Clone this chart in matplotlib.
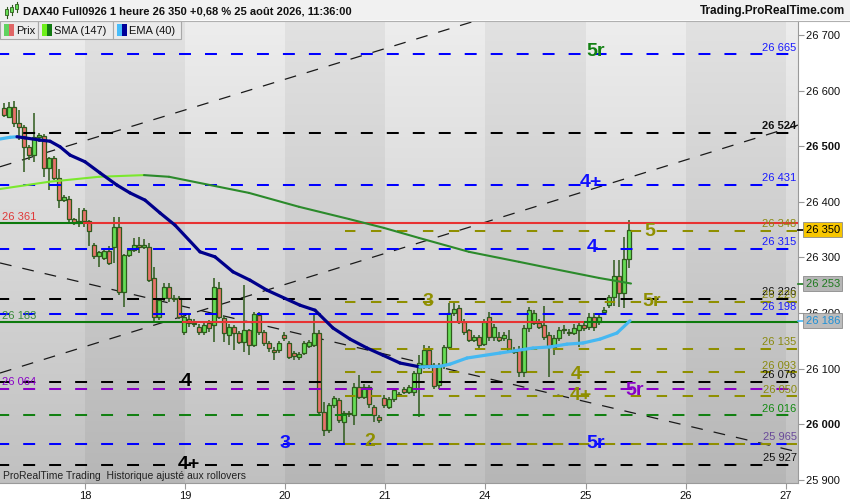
import numpy as np
import matplotlib.pyplot as plt
from matplotlib.patches import Rectangle
from matplotlib.collections import LineCollection
import matplotlib.transforms as mtransforms

plt.rcParams['font.family'] = ['Liberation Sans', 'DejaVu Sans']
plt.rcParams['lines.scale_dashes'] = False

# ---------------- data (1h candles, index = bar number) ----------------
opens = [26569, 26553, 26571, 26542, 26535, 26499, 26484, 26517, 26518, 26461,
         26479, 26443, 26403, 26405, 26369, 26362, 26385, 26365, 26322, 26302,
         26299, 26311, 26319, 26355, 26238, 26304, 26313, 26322, 26319, 26319,
         26263, 26193, 26227, 26247, 26227, 26227, 26166, 26189, 26182, 26175,
         26166, 26182, 26178, 26245, 26191, 26160, 26175, 26164, 26148, 26169,
         26142, 26196, 26166, 26146, 26134, 26133, 26160, 26146, 26128, 26121,
         26128, 26140, 26142, 26164, 26022, 25990, 26034, 26043, 26004, 26020,
         26016, 26067, 26049, 26067, 26031, 26013, 26047, 26031, 26045, 26052,
         26063, 26058, 26058, 26092, 26106, 26133, 26106, 26070, 26106, 26139,
         26200, 26209, 26184, 26169, 26151, 26157, 26145, 26193, 26157, 26157,
         26155, 26153, 26130, 26133, 26094, 26173, 26182, 26182, 26178, 26160,
         26139, 26155, 26169, 26166, 26164, 26169, 26178, 26175, 26193, 26184,
         26202, 26214, 26229, 26266, 26236, 26297]
highs = [26578, 26580, 26581, 26565, 26538, 26502, 26560, 26524, 26522, 26481,
         26482, 26459, 26412, 26410, 26371, 26389, 26389, 26367, 26325, 26311,
         26313, 26320, 26373, 26373, 26307, 26316, 26335, 26337, 26333, 26325,
         26283, 26227, 26254, 26254, 26232, 26230, 26200, 26196, 26190, 26180,
         26182, 26187, 26263, 26256, 26195, 26180, 26178, 26168, 26250, 26172,
         26202, 26202, 26170, 26150, 26138, 26150, 26165, 26150, 26132, 26130,
         26150, 26152, 26196, 26170, 26040, 26038, 26050, 26047, 26024, 26024,
         26074, 26088, 26072, 26070, 26034, 26016, 26052, 26048, 26065, 26058,
         26066, 26070, 26096, 26124, 26142, 26140, 26110, 26110, 26142, 26218,
         26218, 26215, 26190, 26172, 26160, 26160, 26190, 26202, 26180, 26165,
         26165, 26169, 26138, 26140, 26178, 26210, 26205, 26190, 26212, 26165,
         26160, 26175, 26178, 26172, 26180, 26185, 26185, 26200, 26200, 26198,
         26210, 26232, 26295, 26295, 26336, 26367]
lows = [26552, 26551, 26535, 26511, 26454, 26475, 26472, 26508, 26445, 26421,
        26440, 26388, 26400, 26362, 26358, 26355, 26355, 26320, 26298, 26283,
        26295, 26286, 26290, 26232, 26211, 26300, 26310, 26308, 26315, 26255,
        26184, 26188, 26222, 26220, 26220, 26190, 26160, 26175, 26175, 26160,
        26160, 26165, 26148, 26190, 26148, 26142, 26133, 26145, 26130, 26124,
        26138, 26160, 26140, 26130, 26115, 26128, 26150, 26118, 26115, 26116,
        26124, 26137, 26138, 26018, 25979, 25985, 26030, 26002, 25963, 26013,
        25999, 26045, 26045, 26029, 26004, 26002, 26030, 26027, 26040, 26048,
        26054, 26054, 26050, 26013, 26100, 26100, 26063, 26063, 26100, 26135,
        26195, 26180, 26160, 26148, 26148, 26135, 26140, 26150, 26150, 26148,
        26150, 26130, 26126, 26085, 26085, 26165, 26178, 26172, 26152, 26085,
        26124, 26150, 26162, 26158, 26160, 26139, 26168, 26170, 26168, 26178,
        26198, 26209, 26213, 26211, 26209, 26281]
closes = [26556, 26571, 26542, 26535, 26499, 26484, 26517, 26520, 26461, 26479,
          26443, 26403, 26408, 26369, 26362, 26365, 26365, 26347, 26302, 26309,
          26311, 26290, 26355, 26238, 26304, 26313, 26322, 26319, 26322, 26259,
          26193, 26223, 26247, 26227, 26225, 26193, 26193, 26182, 26180, 26166,
          26178, 26173, 26247, 26193, 26164, 26175, 26164, 26148, 26169, 26142,
          26198, 26166, 26146, 26137, 26130, 26146, 26155, 26121, 26123, 26126,
          26146, 26147, 26164, 26022, 25990, 26034, 26047, 26007, 26020, 26018,
          26067, 26049, 26067, 26036, 26016, 26007, 26034, 26045, 26061, 26054,
          26058, 26067, 26092, 26110, 26133, 26106, 26068, 26106, 26139, 26200,
          26207, 26184, 26166, 26151, 26157, 26142, 26184, 26157, 26175, 26151,
          26160, 26133, 26134, 26094, 26173, 26205, 26200, 26175, 26157, 26139,
          26155, 26169, 26171, 26164, 26173, 26178, 26173, 26193, 26175, 26193,
          26205, 26229, 26266, 26236, 26297, 26350]

# moving averages (bar index, value)
sma_x = [-0.8, 9, 19, 28, 33, 49, 59, 69, 76, 83, 93, 103, 109, 119, 125.4]
sma_v = [26423, 26436, 26445, 26448, 26445, 26416, 26391, 26369, 26353, 26335,
         26310, 26292, 26281, 26263, 26253]
ema_x = [-0.8, 1.2, 2.6, 4.2, 7.2, 9.2, 11.2, 13.2, 16.2, 19.2, 22.6, 25.2, 28.2,
         31.2, 34.2, 39.2, 42.2, 45.8, 49.2, 52.6, 59.2, 62.2, 65.8, 69.2, 72.6,
         75.8, 79.2, 83.2, 87.2, 89.2, 92.6, 99.2, 105.8, 109.2, 112.6, 115.8,
         119.2, 122.6, 125.2]
ema_v = [26513, 26516, 26517, 26515, 26511, 26509, 26499, 26484, 26472, 26452,
         26430, 26416, 26403, 26380, 26358, 26310, 26301, 26274, 26259, 26241,
         26214, 26205, 26173, 26153, 26137, 26124, 26110, 26103, 26104, 26108,
         26119, 26128, 26137, 26139, 26144, 26146, 26153, 26164, 26186]

day_labels = ['18', '19', '20', '21', '24', '25', '26', '27']
day_starts = [16.2, 36.2, 56.2, 76.2, 96.2, 116.4, 136.4, 156.4]

# horizontal levels: value, colour key, starts at bar
level_vals = [26665, 26524, 26431, 26348, 26315, 26226, 26220, 26198, 26135,
              26093, 26076, 26064, 26050, 26016, 25965, 25965, 25927]
level_cols = ['blue', 'black', 'blue', 'olive', 'blue', 'black', 'olive', 'blue',
              'olive', 'olive', 'black', 'purple', 'olive', 'green', 'blue',
              'olive', 'black']
level_start = [None, None, None, 68.2, None, None, 68.2, None, 68.2, 68.2,
               None, None, 68.2, None, None, 68.2, None]
right_labels = [26665, 26524, 26431, 26348, 26315, 26226, 26220, 26198, 26135,
                26093, 26076, 26050, 26016, 25965, 25927]
right_label_cols = ['blue', 'black', 'blue', 'olive', 'blue', 'black', 'olive',
                    'blue', 'olive', 'olive', 'black', 'olive', 'green',
                    'mix', 'black']

# trend lines (bar, price) end points
trend_x = [(-0.8, 95.2), (-0.8, 158.8), (-0.8, 158.8)]
trend_y = [(26463, 26728), (26092, 26538), (26290, 25950)]

# wave count marks
mark_txt = ['5r', '4+', '4', '5', '5r', '3', '4', '4', '4+', '5r', '3', '2', '5r', '4+']
mark_x = [118.4, 117.4, 117.6, 129.2, 129.6, 84.8, 36.4, 114.4, 115.4, 126.2,
          56.2, 73.2, 118.4, 37.0]
mark_y = [26671, 26434, 26317, 26346, 26220, 26220, 26076, 26090, 26051, 26061,
          25966, 25968, 25966, 25928]
mark_col = ['green', 'blue', 'blue', 'olive', 'olive', 'olive', 'black', 'olive',
            'olive', 'purple', 'blue', 'olive', 'blue', 'black']

C = {'blue': '#0000ff', 'black': '#000000', 'olive': '#8f8f00',
     'purple': '#8a00c8', 'green': '#128012'}
TXT = {'blue': '#1a1aff', 'black': '#111111', 'olive': '#8a8a10',
       'purple': '#8a00c8', 'green': '#128a12', 'mix': '#6a4a9a'}

XMIN, XMAX = -0.8, 158.8
YMIN, YMAX = 25894.2, 26725.2


def fmt(v):
    return '{:,}'.format(int(v)).replace(',', ' ')


fig = plt.figure(figsize=(8.5, 5), dpi=100, facecolor='white')
ax = fig.add_axes([0, 17 / 500, 798 / 850, 462 / 500])

# background: vertical gradient, alternating day bands
W = 798
cols = np.arange(W) + 0.5
bounds = [85, 185, 285, 385, 485, 586, 686, 786]
band = np.searchsorted(bounds, cols)
dark = (band % 2) == 1
t = np.linspace(0, 1, 120)[:, None]
light_img = 0.93 - 0.175 * t
dark_img = 0.885 - 0.17 * t
img = np.where(dark[None, :], dark_img, light_img)
ax.imshow(np.dstack([img, img, img]), extent=(XMIN, XMAX, YMIN, YMAX),
          aspect='auto', zorder=0, interpolation='bilinear')

# trend lines
for (x0, x1), (y0, y1) in zip(trend_x, trend_y):
    ax.plot([x0, x1], [y0, y1], color='#1a1a1a', lw=0.9, dashes=(8.5, 8.0), zorder=2)

# dashed levels
for v, c, s in zip(level_vals, level_cols, level_start):
    x0 = XMIN if s is None else s
    if c == 'olive':
        ax.plot([x0, XMAX], [v, v], color=C[c], lw=1.45,
                dashes=(7.5, 11.2), dash_capstyle='butt', zorder=3.5)
    else:
        ax.plot([x0, XMAX], [v, v], color=C[c], lw=1.45,
                linestyle=(2.0, (8.6, 10.1)), dash_capstyle='butt', zorder=3.4)

# solid support/resistance lines (colour changes along the line)
ax.plot([XMIN, 16.0], [26361, 26361], color='#0d7a0d', lw=1.5, zorder=3.6)
ax.plot([16.0, XMAX], [26361, 26361], color='#e83232', lw=1.5, zorder=3.6)
ax.plot([XMIN, 35.8], [26183, 26183], color='#0d7a0d', lw=1.5, zorder=3.6)
ax.plot([35.8, 116.2], [26183, 26183], color='#e83232', lw=1.5, zorder=3.6)
ax.plot([116.2, XMAX], [26183, 26183], color='#0d7a0d', lw=1.5, zorder=3.6)

# candles
o = np.array(opens, float)
h = np.array(highs, float)
l = np.array(lows, float)
c_ = np.array(closes, float)
x = np.arange(len(o))
up = c_ >= o
ax.vlines(x, l, h, color='#2e5a1c', lw=1.1, zorder=3)
bottom = np.minimum(o, c_)
height = np.maximum(np.abs(c_ - o), 1.5)
ax.bar(x[up], height[up], 0.8, bottom[up], color='#66dd55', edgecolor='#2e5a1c',
       lw=0.9, zorder=3.1)
ax.bar(x[~up], height[~up], 0.8, bottom[~up], color='#e8736b', edgecolor='#2e5a1c',
       lw=0.9, zorder=3.1)


def ma_line(xs, vs, c_up, c_dn, lw, z):
    pts = np.column_stack([xs, vs])
    segs = np.stack([pts[:-1], pts[1:]], axis=1)
    colors = [c_up if b > a else c_dn for a, b in zip(vs[:-1], vs[1:])]
    lc = LineCollection(segs, colors=colors, linewidths=lw, zorder=z,
                        capstyle='round', joinstyle='round')
    ax.add_collection(lc)


ma_line(sma_x, sma_v, '#7be82e', '#2b8a2b', 1.5, 4)
ma_line(ema_x, ema_v, '#45b8f2', '#00008b', 2.3, 4.1)

# wave labels
for s, xx, yy, cc in zip(mark_txt, mark_x, mark_y, mark_col):
    ax.text(xx, yy, s, color=C[cc] if cc != 'blue' else '#1010ff', fontsize=14,
            fontweight='bold', ha='center', va='center', zorder=6)

# level value labels at the right edge of the plot
for v, cc in zip(right_labels, right_label_cols):
    col = TXT[cc]
    ax.annotate(fmt(v), xy=(1, v), xycoords=('axes fraction', 'data'),
                xytext=(-1.0, 1.2), textcoords='offset points', ha='right',
                va='bottom', fontsize=8, color=col, zorder=6,
                fontweight='bold' if v == 26524 else 'normal')

# labels at the left edge
for v, col in [(26361, '#e03a3a'), (26183, '#3a8a3a'), (26064, '#8a00c8')]:
    ax.annotate(fmt(v), xy=(0, v), xycoords=('axes fraction', 'data'),
                xytext=(1.5, 1.2), textcoords='offset points', ha='left',
                va='bottom', fontsize=8, color=col, zorder=6)

ax.set_xlim(XMIN, XMAX)
ax.set_ylim(YMIN, YMAX)

# axes / ticks
ax.yaxis.tick_right()
yt = list(range(25900, 26701, 100))
ax.set_yticks(yt, [fmt(v) for v in yt])
for lab in ax.get_yticklabels():
    if lab.get_text() in ('26 500', '26 000'):
        lab.set_fontweight('bold')
ax.tick_params(axis='y', length=4, color='#999999', labelsize=8, pad=2,
               labelcolor='#111111')
ax.set_xticks(day_starts, day_labels)
ax.tick_params(axis='x', length=4, color='#999999', labelsize=8, pad=2,
               labelcolor='#111111')
for sp in ['left', 'top']:
    ax.spines[sp].set_visible(False)
for sp in ['right', 'bottom']:
    ax.spines[sp].set_color('#9a9a9a')
    ax.spines[sp].set_linewidth(0.8)

# current value tags on the price scale
blend = mtransforms.blended_transform_factory(ax.transAxes, ax.transData)
tags = [(26350, '#f7c600', '#000000', '#000000'),
        (26253, '#b6b6b6', '#1f7a1f', '#1f7a1f'),
        (26186, '#bcbcbc', '#1e90d6', '#45b8f2')]
for v, fc, tc, lc in tags:
    ax.plot([1.0, 1.0 + 6 / 798], [v, v], color=lc, lw=1.2, transform=blend,
            clip_on=False, zorder=7)
    ax.annotate(fmt(v), xy=(1, v), xycoords=('axes fraction', 'data'),
                xytext=(5.5, 0), textcoords='offset points', ha='left',
                va='center', fontsize=8, color=tc, zorder=8, annotation_clip=False,
                bbox=dict(boxstyle='square,pad=0.22', fc=fc, ec='#8c8c8c', lw=0.6))


# ---- figure decorations (pixel helpers) ----
def frect(x0, y0, w, hh, **kw):
    fig.add_artist(Rectangle((x0 / 850, 1 - (y0 + hh) / 500), w / 850, hh / 500,
                             transform=fig.transFigure, **kw))


def ftext(xp, yp, s, **kw):
    fig.text(xp / 850, 1 - yp / 500, s, **kw)


frect(0, 0, 850, 20, fc='#f1f1f1', ec='none', zorder=10)
fig.add_artist(plt.Line2D([0, 1], [1 - 20.5 / 500] * 2, color='#b0b0b0', lw=0.8,
                          transform=fig.transFigure, zorder=11))
# small candlestick icon
for xi, yb, yt_, col in [(5, 9, 15, '#66dd55'), (10, 7, 12, '#66dd55'), (15, 4, 9, '#66dd55')]:
    fig.add_artist(plt.Line2D([(xi + 1.5) / 850] * 2, [1 - (yt_ + 3) / 500, 1 - (yb - 2) / 500],
                              color='#2e5a1c', lw=0.8, transform=fig.transFigure, zorder=11))
    frect(xi, yb, 3, yt_ - yb, fc=col, ec='#2e5a1c', lw=0.6, zorder=12)
ftext(23, 11, 'DAX40 Full0926 1 heure 26 350 +0,68 % 25 août 2026, 11:36:00',
      fontsize=8, fontweight='bold', color='#111111', va='center', zorder=12)
ftext(845, 11, 'Trading.ProRealTime.com', fontsize=8.5, fontweight='bold',
      color='#111111', va='center', ha='right', zorder=12)

# indicator legend boxes
boxes = [(0, 38, 'Prix', '#5fd35f', '#e06666'),
         (38, 75, 'SMA (147)', '#6ef01a', '#137a13'),
         (113, 68, 'EMA (40)', '#48bdfa', '#000099')]
for bx, bw, name, c1, c2 in boxes:
    frect(bx, 21, bw, 18, fc='#ebebeb', ec='#a8a8a8', lw=0.8, zorder=10)
    frect(bx + 3.5, 24, 5, 12, fc=c1, ec='none', zorder=11)
    frect(bx + 8.5, 24, 5, 12, fc=c2, ec='none', zorder=11)
    ftext(bx + 16, 30.5, name, fontsize=8, color='#111111', va='center', zorder=12)

ftext(3, 476, 'ProRealTime Trading  Historique ajusté aux rollovers', fontsize=7.5,
      color='#222222', va='center', zorder=12)

fig.savefig('out.png', dpi=100, facecolor='white')
